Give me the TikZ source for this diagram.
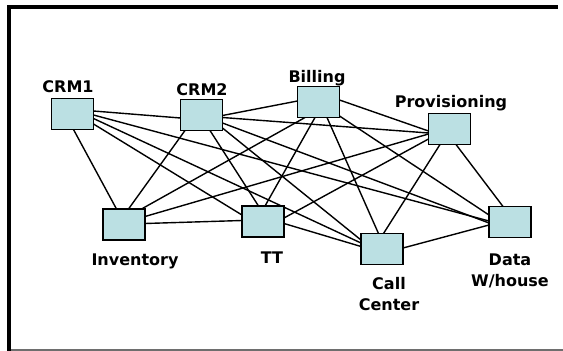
\documentclass[tikz,border=0pt]{standalone}
\usepackage{fontspec}
\setmainfont{DejaVu Sans}
\usetikzlibrary{calc,backgrounds}
\definecolor{boxfill}{HTML}{BBE0E3}
\definecolor{framegray}{HTML}{6E6E6E}

\begin{document}
\begin{tikzpicture}[x=1pt,y=-1pt,
  sys/.style={draw=black, line width=1.6pt, fill=boxfill,
              minimum width=42pt, minimum height=31pt, inner sep=0pt},
  lbl/.style={font=\fontsize{16}{21}\selectfont\bfseries,
              inner sep=0pt, anchor=north, align=center},
  link/.style={line width=1.4pt, line cap=round}]

\useasboundingbox (0,0) rectangle (563,351);

% outer frame
\draw[line width=4pt] (9.3,351) -- (9.3,7.2) -- (558,7.2);
\draw[framegray, line width=1.7pt] (11,350.2) -- (563,350.2);

% systems
\node[sys] (crm1) at (72.5,114) {};
\node[sys] (crm2) at (201.5,115) {};
\node[sys] (bill) at (318.5,102) {};
\node[sys] (prov) at (449.5,129) {};
\node[sys] (inv)  at (124,224.5) {};
\node[sys] (tt)   at (263,221.5) {};
\node[sys] (cc)   at (382,249) {};
\node[sys] (dw)   at (510,222) {};

% captions
\node[lbl] (crm1l) at (68,80)    {CRM1};
\node[lbl] (crm2l) at (202,83.5) {CRM2};
\node[lbl] (billl) at (317,70)   {Billing};
\node[lbl] (provl) at (451,95.5) {Provisioning};
\node[lbl] (invl)  at (135,254)  {Inventory};
\node[lbl] (ttl)   at (272,252)  {TT};
\node[lbl] (ccl)   at (389,277)  {Call\\Center};
\node[lbl] (dwl)   at (510,254)  {Data\\W/house};

% interfaces between systems
\begin{scope}[on background layer]
  \draw[link] ($(crm1)+(21,-3)$)     -- ($(crm2)+(-21,3)$);
  \draw[link] ($(crm1)+(1,15.5)$)    -- ($(inv)+(-7.5,-15.5)$);
  \draw[link] ($(crm1)+(21,10)$)     -- ($(tt)+(-21,-6.5)$);
  \draw[link] ($(crm1)+(21,4.5)$)    -- ($(cc)+(-21,-6)$);
  \draw[link] ($(crm1)+(21,1)$)      -- ($(dw)+(-21,-1)$);

  \draw[link] ($(crm2)+(21,0.5)$)    -- ($(bill)+(-21,-1)$);
  \draw[link] ($(crm2)+(21,2.5)$)    -- ($(prov)+(-21,4)$);
  \draw[link] ($(crm2)+(-16.5,15.5)$) -- ($(inv)+(4.5,-15.5)$);
  \draw[link] ($(crm2)+(8.5,15.5)$)  -- ($(tt)+(-4.5,-15.5)$);
  \draw[link] ($(crm2)+(21,13)$)     -- ($(cc)+(-21,-9)$);
  \draw[link] ($(crm2)+(21,8)$)      -- ($(dw)+(-21,1)$);

  \draw[link] ($(bill)+(21,-2)$)     -- ($(prov)+(-21,2)$);
  \draw[link] ($(bill)+(-13.5,15.5)$) -- ($(inv)+(17.5,-15.5)$);
  \draw[link] ($(bill)+(-3.5,15.5)$) -- ($(tt)+(2,-15.5)$);
  \draw[link] ($(bill)+(8.5,15.5)$)  -- ($(cc)+(-3.5,-15.5)$);
  \draw[link] ($(bill)+(21,14)$)     -- ($(dw)+(-21,-7)$);

  \draw[link] ($(prov)+(-21,5)$)     -- ($(inv)+(21,-8)$);
  \draw[link] ($(prov)+(-21,10)$)    -- ($(tt)+(21,-3.5)$);
  \draw[link] ($(prov)+(-9.5,15.5)$) -- ($(cc)+(1.5,-15.5)$);
  \draw[link] ($(prov)+(6.5,15.5)$)  -- ($(dw)+(-7,-15.5)$);

  \draw[link] ($(inv)+(21,-1)$)      -- ($(tt)+(-21,-1)$);
  \draw[link] ($(tt)+(21,2)$)        -- ($(cc)+(-21,-2.5)$);
  \draw[link] ($(cc)+(21,-1)$)       -- ($(dw)+(-21,3)$);
\end{scope}
\end{tikzpicture}
\end{document}
